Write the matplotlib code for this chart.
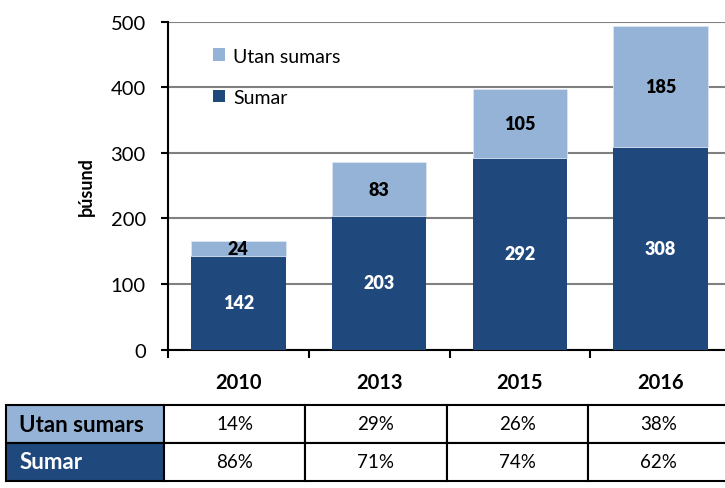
import numpy as np
import matplotlib
matplotlib.use("Agg")
import matplotlib.pyplot as plt

# data
years = ["2010", "2013", "2015", "2016"]
sumar = [142, 203, 292, 308]
utan_sumars = [24, 83, 105, 185]
pct_utan = ["14%", "29%", "26%", "38%"]
pct_sumar = ["86%", "71%", "74%", "62%"]

DARK = "#1F497D"
LIGHT = "#95B3D7"

plt.rcParams['font.family'] = ['Lato', 'DejaVu Sans']

W, H = 725, 489
fig = plt.figure(figsize=(W / 100, H / 100), dpi=100)

# main chart axes (right side runs a bit past the picture edge, as in the reference)
ax = fig.add_axes([168 / W, 1 - 350.5 / H, (731 - 168) / W, (350.5 - 22.5) / H])
x = np.arange(len(years))
b1 = ax.bar(x, sumar, width=0.67, color=DARK, label="Sumar", zorder=3)
b2 = ax.bar(x, utan_sumars, width=0.67, bottom=sumar, color=LIGHT,
            edgecolor='#DCE6F1', linewidth=0.6, label="Utan sumars", zorder=3)
ax.bar_label(b1, labels=[str(v) for v in sumar], label_type='center',
             color='white', fontsize=13, fontweight='heavy')
ax.bar_label(b2, labels=[str(v) for v in utan_sumars], label_type='center',
             color='black', fontsize=13, fontweight='heavy')

ax.set_xlim(-0.5, len(years) - 0.5)
ax.set_ylim(0, 500)
ax.set_yticks(range(0, 501, 100))
ax.tick_params(axis='y', labelsize=14.5, length=5, width=1.5, direction='out', pad=11)
ax.yaxis.grid(True, color='#808080', linewidth=1.5, zorder=0)
ax.set_axisbelow(True)

# x ticks at category boundaries, labels at centres
ax.set_xticks(np.arange(-0.5, len(years), 1.0))
ax.set_xticklabels([])
ax.set_xticks(x, minor=True)
ax.set_xticklabels(years, minor=True, fontsize=14.5, fontweight='bold')
ax.tick_params(axis='x', which='major', length=6, width=1.5, direction='out')
ax.tick_params(axis='x', which='minor', length=0, pad=16)

for s in ['top', 'right']:
    ax.spines[s].set_visible(False)
for s in ['left', 'bottom']:
    ax.spines[s].set_linewidth(1.5)
    ax.spines[s].set_color('black')

ax.set_ylabel("þúsund", fontsize=13, fontweight='bold', labelpad=11)

handles, labels = ax.get_legend_handles_labels()
leg = ax.legend(handles[::-1], labels[::-1], loc='upper left',
                bbox_to_anchor=(0.048, 0.974), frameon=False, fontsize=14,
                handlelength=0.62, handleheight=0.62, labelspacing=1.25,
                handletextpad=0.45, borderpad=0.4)
for h in leg.legend_handles:
    h.set_linewidth(0)

# table below the chart
tax = fig.add_axes([6 / W, 1 - 482 / H, (729 - 6) / W, (482 - 406) / H])
tax.axis('off')
cells = [["Utan sumars"] + pct_utan, ["Sumar"] + pct_sumar]
widths = np.array([158, 141, 142, 141, 141], dtype=float)
tbl = tax.table(cellText=cells, colWidths=list(widths / widths.sum()),
                bbox=[0, 0, 1, 1], cellLoc='center')
tbl.auto_set_font_size(False)
for (r, c), cell in tbl.get_celld().items():
    cell.set_linewidth(1.5)
    cell.set_edgecolor('black')
    cell.get_text().set_fontsize(13.5)
    if c == 0:
        cell.set_facecolor(LIGHT if r == 0 else DARK)
        cell.get_text().set_fontweight('bold')
        cell.get_text().set_fontsize(16)
        cell.get_text().set_color('black' if r == 0 else 'white')
        cell.get_text().set_ha('left')
        cell._loc = 'left'
        cell.PAD = 0.085

fig.savefig("out.png", dpi=100)
